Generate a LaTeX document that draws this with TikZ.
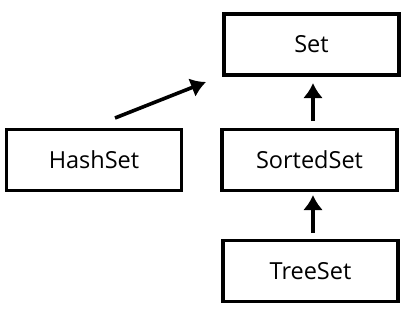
\documentclass[tikz,border=0pt]{standalone}
\usepackage{fontspec}
\setmainfont{Open Sans}
\usetikzlibrary{arrows.meta}

\begin{document}
\begin{tikzpicture}[x=1pt,y=-1pt,
		classbox/.style={draw, line width=3.6pt, minimum width=175pt, minimum height=61pt,
			inner sep=0pt, font=\fontsize{23.5}{27}\selectfont},
		inherit/.style={line width=3.6pt, -{Latex[length=15pt,width=20pt]}}]
		\useasboundingbox (0,0) rectangle (411,318);
		% boxes
		\node[classbox] (set) at (311.5,44.5) {Set};
		\node[classbox] (hash) at (94,160) {HashSet};
		\node[classbox] (sorted) at (309.5,160) {SortedSet};
		\node[classbox] (tree) at (310.5,271) {TreeSet};
		% arrow ends
		\coordinate (hashTail) at (115,118);
		\coordinate (hashTip) at (206,82);
		\coordinate (sortedTail) at (313,121);
		\coordinate (sortedTip) at (313,83);
		\coordinate (treeTail) at (313,233);
		\coordinate (treeTip) at (313,195);
		\draw[inherit] (hashTail) -- (hashTip);
		\draw[inherit] (sortedTail) -- (sortedTip);
		\draw[inherit] (treeTail) -- (treeTip);
	\end{tikzpicture}
\end{document}
